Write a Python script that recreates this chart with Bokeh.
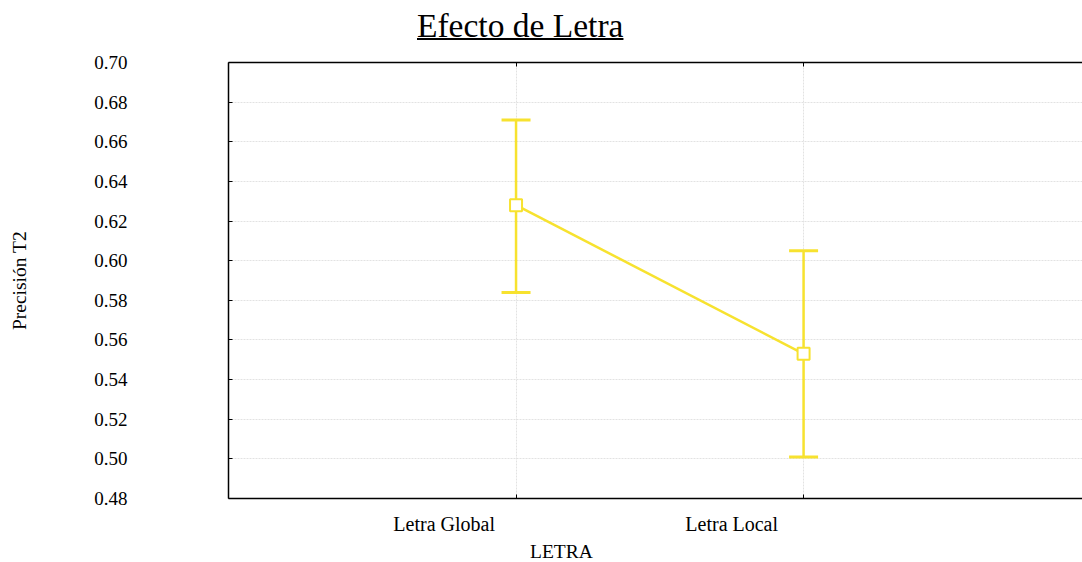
from bokeh.plotting import figure
from bokeh.models import (ColumnDataSource, Range1d, FixedTicker, LinearAxis, Whisker,
                          TeeHead, Div, PrintfTickFormatter)
from bokeh.layouts import column
from bokeh.embed import file_html
from bokeh.resources import INLINE

# ---- data ----
categories = ["Letra Global", "Letra Local"]
cat_pos = [1, 2]
means = [0.628, 0.553]
upper = [0.671, 0.605]
lower = [0.584, 0.501]
y_ticks = [0.48, 0.50, 0.52, 0.54, 0.56, 0.58, 0.60, 0.62, 0.64, 0.66, 0.68, 0.70]

title_text = "Efecto de Letra"
x_title = "LETRA"
y_title = "Precisión T2"

YELLOW = "#f7e22f"
FONT = "Liberation Serif"

# category labels sit left of their tick, as in the original
label_pos = [c - 0.25 for c in cat_pos]

src = ColumnDataSource(dict(x=cat_pos, m=means, up=upper, lo=lower))

p = figure(width=1082, height=488, output_backend="svg", toolbar_location=None,
           x_range=Range1d(0, 2.97), y_range=Range1d(0.48, 0.70),
           min_border_left=228, min_border_right=0, min_border_top=10, min_border_bottom=42)
p.outline_line_color = None
p.background_fill_color = "white"
p.border_fill_color = "white"

# y axis
p.yaxis.ticker = FixedTicker(ticks=y_ticks)
p.yaxis.formatter = PrintfTickFormatter(format="%.2f")
p.yaxis.major_tick_in = 4
p.yaxis.major_tick_out = 0
p.yaxis.minor_tick_line_color = None
p.yaxis.major_label_standoff = 101
p.yaxis.major_label_text_font = FONT
p.yaxis.major_label_text_font_size = "19px"
p.yaxis.major_label_text_color = "black"
p.yaxis.axis_label = y_title
p.yaxis.axis_label_text_font = FONT
p.yaxis.axis_label_text_font_size = "19.5px"
p.yaxis.axis_label_text_font_style = "normal"
p.yaxis.axis_label_text_color = "black"
p.yaxis.axis_label_standoff = 61
p.yaxis.axis_line_width = 1.5
p.yaxis.axis_line_color = "black"

# x axis: labels at major ticks (shifted), tick marks as minor ticks at the categories
p.xaxis.ticker = FixedTicker(ticks=label_pos, minor_ticks=cat_pos)
p.xaxis.major_label_overrides = {lp: name for lp, name in zip(label_pos, categories)}
p.xaxis.major_tick_line_color = None
p.xaxis.minor_tick_in = 4
p.xaxis.minor_tick_out = 0
p.xaxis.minor_tick_line_color = "black"
p.xaxis.major_label_standoff = 8
p.xaxis.major_label_text_font = FONT
p.xaxis.major_label_text_font_size = "20px"
p.xaxis.major_label_text_color = "black"
p.xaxis.axis_line_width = 1.5
p.xaxis.axis_line_color = "black"

top = LinearAxis(ticker=FixedTicker(ticks=[], minor_ticks=cat_pos),
                 major_tick_line_color=None, minor_tick_in=4, minor_tick_out=0,
                 minor_tick_line_color="black", axis_line_width=1.5, axis_line_color="black")
p.add_layout(top, "above")

# grids
p.xgrid.ticker = FixedTicker(ticks=cat_pos)
p.ygrid.ticker = FixedTicker(ticks=y_ticks)
for g in (p.xgrid, p.ygrid):
    g.grid_line_color = "#e2e2e2"
    g.grid_line_dash = "2 1"
    g.grid_line_width = 1

# error bars
w = Whisker(source=src, base="x", upper="up", lower="lo", line_color=YELLOW, line_width=2.5,
            upper_head=TeeHead(size=29, line_color=YELLOW, line_width=3),
            lower_head=TeeHead(size=29, line_color=YELLOW, line_width=3))
p.add_layout(w)

# line and markers
p.line("x", "m", source=src, line_color=YELLOW, line_width=2.5)
p.scatter("x", "m", source=src, marker="square", size=12, fill_color="white",
          line_color=YELLOW, line_width=2)

title = Div(text=f'<div style="font-family:\'{FONT}\';font-size:33.5px;line-height:36px;'
                 f'text-decoration:underline;text-decoration-thickness:2px;'
                 f'padding-left:417px;margin-top:8px;color:black;white-space:nowrap;">{title_text}</div>',
            width=1082, height=52, margin=0)

xlab = Div(text=f'<div style="font-family:\'{FONT}\';font-size:19.5px;line-height:24px;'
                f'padding-left:530px;color:black;white-space:nowrap;">{x_title}</div>',
           width=1082, height=22, margin=0)

layout = column(title, p, xlab, spacing=0)
open("out.html", "w").write(file_html(layout, INLINE))
